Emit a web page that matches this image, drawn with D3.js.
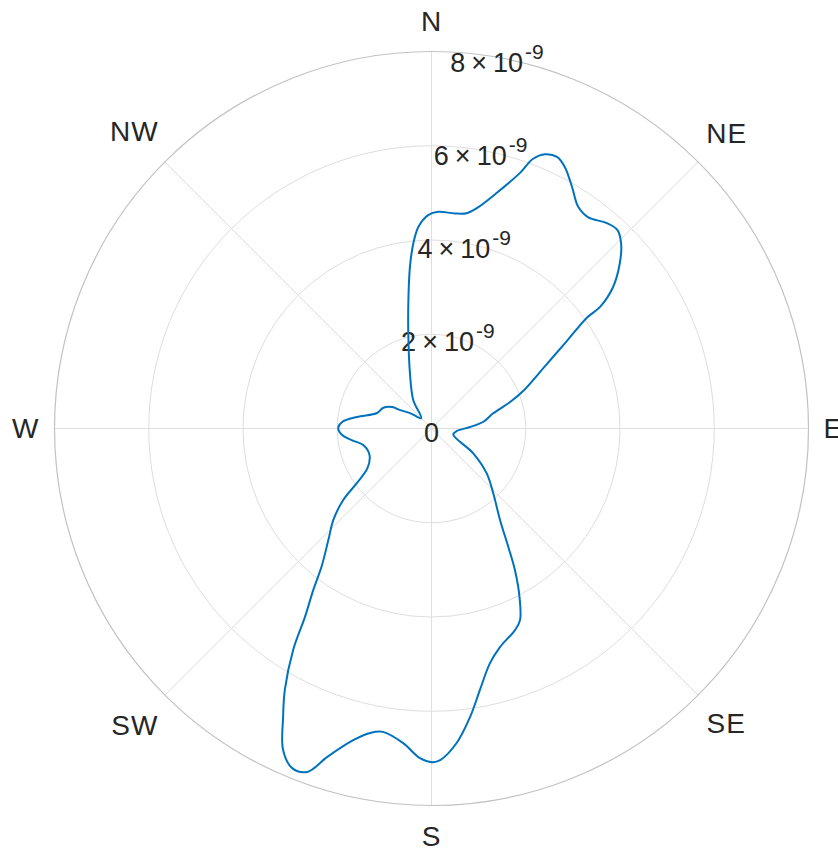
<!DOCTYPE html>
<html lang="en">
<head>
<meta charset="utf-8">
<title>Polar density</title>
<script src="https://cdn.jsdelivr.net/npm/d3@7"></script>
<style>
  body { margin: 0; background: #fff; }
  text { font-family: "Liberation Sans", Arial, Helvetica, sans-serif; fill: #262626; }
</style>
</head>
<body>
<script>
// direction in degrees, clockwise from north
var directions = [1.8, 6.2, 9.3, 11.7, 15.5, 19.1, 20.6, 22.5, 24.8, 27.0, 30.2, 33.5, 36.5, 40.5, 43.1,
  45.6, 48.7, 52.1, 54.2, 54.5, 57.3, 61.2, 67.4, 71.4, 76.3, 82.4, 87.8, 95.6, 105.3, 120.7,
  129.1, 136.4, 143.2, 147.0, 149.5, 152.4, 155.2, 157.5, 162.6, 166.0, 169.5, 172.4, 175.4, 178.5,
  179.9, 182.0, 185.2, 189.1, 191.4, 194.1, 197.6, 199.9, 202.3, 204.8, 207.2, 209.3, 212.0, 213.9,
  216.2, 218.5, 222.8, 227.0, 231.0, 233.8, 238.2, 246.9, 256.4, 261.5, 265.8, 270.3, 274.2, 278.8,
  285.9, 292.9, 298.6, 300.4, 305.8, 315.0, 327.4, 338.7, 346.3, 349.8, 352.4, 354.4, 356.3, 359.1];
// values in units of 1e-9
var density = [4.60, 4.59, 4.63, 4.78, 5.19, 5.74, 6.11, 6.30, 6.35, 6.23, 5.93, 5.64, 5.58, 5.73, 5.77,
  5.63, 5.32, 4.88, 4.41, 4.05, 3.39, 2.75, 2.13, 1.76, 1.34, 1.12, 0.82, 0.54, 0.48, 1.03,
  1.51, 1.90, 2.43, 2.99, 3.49, 4.03, 4.48, 4.63, 4.86, 5.13, 5.64, 6.18, 6.69, 7.04,
  7.08, 7.00, 6.70, 6.52, 6.59, 6.82, 7.31, 7.75, 7.79, 7.51, 6.89, 6.36, 5.54, 4.81,
  4.25, 3.75, 3.22, 2.85, 2.41, 1.97, 1.60, 1.43, 1.49, 1.70, 1.90, 1.98, 1.90, 1.60,
  1.20, 1.12, 0.95, 0.77, 0.56, 0.31, 0.72, 1.26, 2.08, 2.77, 3.46, 3.95, 4.29, 4.53];

var rTicks = [0, 2, 4, 6, 8];          // x 1e-9
var compassLabels = ["N", "NE", "E", "SE", "S", "SW", "W", "NW"];
var compassAngles = [0, 45, 90, 135, 180, 225, 270, 315];

var w = 838, h = 852,
    cx = 431.5, cy = 428.5,
    R = 377;

var svg = d3.select("body").append("svg")
  .attr("width", w)
  .attr("height", h);

var g = svg.append("g").attr("transform", "translate(" + cx + "," + cy + ")");

var r = d3.scaleLinear().domain([0, 8e-9]).range([0, R]);
var ang = d3.scaleLinear().domain([0, 360]).range([0, 2 * Math.PI]);

// grid circles
g.selectAll("circle.grid")
  .data(rTicks.filter(function(d) { return d > 0 && d < 8; }))
  .enter().append("circle")
  .attr("class", "grid")
  .attr("r", function(d) { return r(d * 1e-9); })
  .attr("fill", "none")
  .attr("stroke", "#dedede")
  .attr("stroke-width", 1);

// spokes
g.selectAll("line.spoke")
  .data(compassAngles)
  .enter().append("line")
  .attr("class", "spoke")
  .attr("x1", 0).attr("y1", 0)
  .attr("x2", function(d) { return R * Math.sin(ang(d)); })
  .attr("y2", function(d) { return -R * Math.cos(ang(d)); })
  .attr("stroke", "#dedede")
  .attr("stroke-width", 1);

// outer edge
g.append("circle")
  .attr("r", r(8e-9))
  .attr("fill", "none")
  .attr("stroke", "#c2c2c2")
  .attr("stroke-width", 1.2);

// r tick labels along 10 deg
var labAng = ang(10);
var rl = g.selectAll("text.rtick")
  .data(rTicks)
  .enter().append("text")
  .attr("class", "rtick")
  .attr("x", function(d) { return r(d * 1e-9) * Math.sin(labAng); })
  .attr("y", function(d) { return -r(d * 1e-9) * Math.cos(labAng) + (d === 0 ? 4 : 6); })
  .attr("text-anchor", "middle")
  .attr("dominant-baseline", "central")
  .style("font-size", "27px");

rl.each(function(d) {
  var t = d3.select(this);
  if (d === 0) { t.text("0"); return; }
  t.append("tspan").text(d);
  t.append("tspan").attr("dx", 6).text("\u00d7");
  t.append("tspan").attr("dx", 6).text("10");
  t.append("tspan").attr("dx", 2).attr("dy", -12).style("font-size", "21px").text("-9");
});

// compass labels
var gap = 15;
g.selectAll("text.dir")
  .data(compassLabels)
  .enter().append("text")
  .attr("class", "dir")
  .attr("text-anchor", "middle")
  .attr("dominant-baseline", "central")
  .style("font-size", "28px")
  .style("letter-spacing", "1px")
  .text(function(d) { return d; })
  .each(function(d, i) {
    var bb = this.getBBox();
    var a = ang(compassAngles[i]);
    var ux = Math.sin(a), uy = -Math.cos(a);
    var rr = R + gap + Math.abs(ux) * bb.width / 2 + Math.abs(uy) * bb.height / 2;
    d3.select(this).attr("x", rr * ux).attr("y", rr * uy);
  });

// the curve
var pts = directions.map(function(d, i) { return [ang(d), r(density[i] * 1e-9)]; });

var line = d3.lineRadial()
  .angle(function(d) { return d[0]; })
  .radius(function(d) { return d[1]; })
  .curve(d3.curveCatmullRomClosed.alpha(0.5));

g.append("path")
  .attr("d", line(pts))
  .attr("fill", "none")
  .attr("stroke", "#0072BD")
  .attr("stroke-width", 2);
</script>
</body>
</html>
